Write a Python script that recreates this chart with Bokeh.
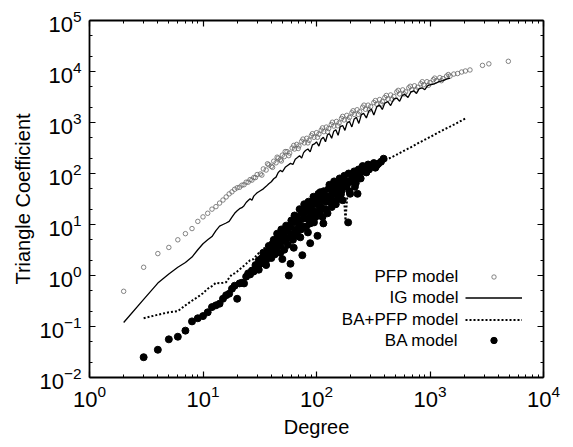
from bokeh.plotting import figure
from bokeh.models import LogAxis, FixedTicker, Legend, LegendItem, Label, Range1d, CustomJSTickFormatter
from bokeh.embed import file_html
from bokeh.resources import INLINE

# ---------------- data ----------------
pfp_deg = [2,3,4,5,6,7,8,9,10,11,12,13,14,15,16,17,18,19,20,21,22,23,24,25,26,27,28,29,30,
           32,34,36,38,40,42,44,46,48,50,52,55,58,61,64,67,70,74,78,82,86,90,95,100,
           105,110,116,122,128,135,142,150,158,166,175,185,195,205,215,228,240,255,270,285,300,
           320,340,360,380,400,425,450,480,510,540,575,610,650,690,730,780,830,880,940,1000,
           1070,1140,1220,1300,1400,1500,1620,1750,1900,2050,2250,2900,3300,4900,
           33,37,41,45,49,53,57,63,69,76,84,92,102,113,125,138,154,170,190,210,234,262,292,
           330,370,412,465,525,592,670,755,855,970,1100,1260,1450]
pfp_tc = [0.49,1.45,2.69,3.55,5.01,6.61,8.32,11.5,14.1,16.6,20.0,22.4,26.3,30.2,34.7,39.8,43.7,49.0,52.5,53.7,
          58.9,60.3,67.6,67.6,75.9,74.1,83.2,83.2,95.5,
          97.7,123,117,148,138,174,162,200,186,229,214,269,251,316,302,372,347,427,398,490,447,550,513,631,
          589,708,661,813,759,912,851,1047,977,1202,1122,1380,1259,1549,1445,1778,1622,1995,1820,2188,2042,
          2455,2291,2818,2570,3090,2884,3467,3236,3981,3631,4365,3981,4786,4365,5248,4898,5754,5495,6310,6026,
          6918,6607,7586,7244,8128,8128,8913,9120,9772,10230,10720,13180,14130,15850,
          93,155,132,209,176,269,224,355,309,473,398,603,513,785,661,1012,861,1318,1122,1698,1445,2188,1778,
          2692,2291,3388,2851,4266,3631,5129,4365,6310,5370,7413,6607,8710]

ig_deg = [2,3,4,5,6,7,8,9,10,11,12,13,14,15,16,17,18,19,20,21,22,23,24,25,26,27,28,29,30,
          32,34,36,38,40,42,44,46,48,50,53,56,59,62,65,68,71,74,77,80,84,88,92,96,100,
          105,110,115,120,125,130,136,142,148,155,162,170,178,186,195,205,215,225,236,248,260,275,290,305,320,
          340,360,380,400,425,450,480,510,540,570,600,640,680,720,760,800,850,900,950,1000,
          1100,1200,1300,1400,1500]
ig_tc = [0.12,0.34,0.71,1.07,1.45,1.8,2.3,3.2,4.2,5.0,5.8,7.6,9.3,10,10.7,11.5,14,16.6,18.6,20.4,
         21.4,23.4,27,29.5,32,30,36,39,42,
         46,50,56,63,69,79,85,105,115,108,132,145,158,150,190,205,224,200,257,282,302,265,363,380,417,
         345,468,513,420,575,603,490,676,724,560,832,871,700,977,1047,820,1175,1259,960,1413,1514,1230,1698,1820,1400,
         2042,2188,1800,2399,2570,2150,2884,3020,2600,3388,3548,3100,3981,4169,3700,4571,4786,4400,5248,5495,
         5754,6310,6607,7079,7413]

bapfp_deg = [3,4,5,6,7,8,9,10,11,12,13,14,15,16,17,18,19,20,22,24,26,28,30,
             33,36,40,45,50,55,60,65,70,75,80,85,90,95,100,
             110,120,130,140,150,160,173,180,190,200,220,240,260,280,300,330,360,400,
             450,500,560,620,700,780,860,950,1070,1200,1350,1500,1700,1900,2050]
bapfp_tc = [0.145,0.17,0.19,0.20,0.26,0.32,0.38,0.45,0.55,0.62,0.72,0.70,0.72,0.74,0.90,1.05,1.10,1.2,
            1.43,1.7,2.0,2.1,2.6,
            3.0,3.8,4.5,5.6,5.0,7.5,8.5,6.0,10.5,11,8,14,16,11,20,
            24,18,30,35,22,45,47,12,60,73,88,97,107,116,126,141,157,180,
            204,229,263,295,339,389,436,490,562,646,741,832,955,1096,1200]

ba_deg = [3,4,5,6,7,8,9,10,11,12,13,14,15,16,17,18,19,20,21,22,23,24,25,26,27,28,29,30,31,32,
          33,34,35,36,37,38,39,40,41,42,43,44,45,46,47,48,
          50,51,52,53,55,56,57,58,59,60,62,63,63,65,67,68,70,72,74,75,
          77,79,80,82,84,86,88,88,90,93,95,97,100,102,105,108,110,113,115,118,
          122,125,128,132,136,140,145,150,153,158,163,168,173,180,187,190,195,200,210,218,
          225,230,240,250,260,275,290,310,330,350,390,
          31,34,36,38,40,42,44,46,48,49,52,54,56,60,62,64,66,69,71,73,76,78,81,83,85,87,91,94,98,101,
          104,107,112,116,120,126,130,134,138,143,148,155,160,166,170,176,183,192,198,205,215,222,
          235,245,255,270,285,300,320,340,370]
ba_tc = [0.025,0.035,0.056,0.063,0.083,0.126,0.145,0.16,0.19,0.24,
         0.26,0.28,0.35,0.41,0.44,0.55,0.63,0.35,0.70,0.72,
         0.70,0.95,1.1,1.05,1.25,1.2,1.6,1.4,2.0,1.7,
         2.2,2.1,2.6,2.0,3.0,2.4,3.5,2.8,4.2,3.3,
         2.6,4.5,6.6,3.8,5.0,4.0,
         2.1,6.0,4.8,7.6,7.6,5.5,1.0,9.0,1.7,6.5,11,3.5,12,8,14,6,10,5.6,17,2.5,
         16.6,9,20,13,7,22,4.3,10.5,15,26,11,30,18,6,34,43,22,14,10.5,38,
         28,16.6,50,35,22,55,40,30,46,65,38,52,58,70,63,11,45,73,85,55,
         83,40,95,110,130,105,120,140,130,155,195,
         1.3,2.8,1.6,3.8,2.2,5.0,3.0,6.0,2.8,8.0,3.2,9.5,4.0,12,5,15,7,12,20,8,13,25,9,18,28,12,20,35,14,25,
         40,17,30,45,20,35,60,28,42,70,25,50,80,45,30,90,55,100,40,70,110,65,
         120,80,140,125,150,135,160,145,170]

legend_labels = ["PFP model", "IG model", "BA+PFP model", "BA model"]

x_major = [1, 10, 100, 1000, 10000]
y_major = [1e-2, 1e-1, 1, 10, 100, 1000, 1e4, 1e5]
x_minor = [m * 10 ** e for e in range(0, 4) for m in range(2, 10)]
y_minor = [m * 10.0 ** e for e in range(-2, 5) for m in (2, 5)]

FONT = "Liberation Sans"

p = figure(width=573, height=447, x_axis_type="log", y_axis_type="log",
           x_range=Range1d(1, 1e4), y_range=Range1d(1e-2, 1e5),
           output_backend="svg", toolbar_location=None,
           min_border_left=89, min_border_right=30, min_border_top=20, min_border_bottom=70)
p.grid.visible = False
p.outline_line_color = None
p.background_fill_color = "white"
p.border_fill_color = "white"

def style_axis(ax, ticks, minors, labels=True):
    ax.ticker = FixedTicker(ticks=ticks, minor_ticks=minors)
    ax.axis_line_color = "black"
    ax.axis_line_width = 1.8
    ax.major_tick_in = 6
    ax.major_tick_out = 0
    ax.minor_tick_in = 3
    ax.minor_tick_out = 0
    ax.major_tick_line_color = "black"
    ax.minor_tick_line_color = "black"
    ax.major_tick_line_width = 1.2
    ax.minor_tick_line_width = 1
    if labels:
        ax.major_label_text_font = FONT
        ax.major_label_text_font_size = "22px"
        ax.major_label_text_color = "black"
        ax.axis_label_text_font = FONT
        ax.axis_label_text_font_size = "20px"
        ax.axis_label_text_font_style = "normal"
        ax.axis_label_text_color = "black"
    else:
        ax.formatter = CustomJSTickFormatter(code="return ' ';")
        ax.major_label_text_font_size = "2px"
        ax.major_label_text_color = None
        ax.major_label_standoff = 0

style_axis(p.xaxis[0], x_major, x_minor)
style_axis(p.yaxis[0], y_major, y_minor)
p.xaxis[0].axis_label = "Degree"
p.yaxis[0].axis_label = "Triangle Coefficient"
p.xaxis[0].major_label_standoff = 7
p.yaxis[0].major_label_standoff = 8
p.xaxis[0].axis_label_standoff = 6
p.yaxis[0].axis_label_standoff = 2

top = LogAxis()
style_axis(top, x_major, x_minor, labels=False)
p.add_layout(top, "above")
right = LogAxis()
style_axis(right, y_major, y_minor, labels=False)
p.add_layout(right, "right")

r_pfp = p.scatter(pfp_deg, pfp_tc, marker="circle", size=4.5, fill_color=None,
                  line_color="#666666", line_width=0.8)
r_ig = p.line(ig_deg, ig_tc, line_color="black", line_width=1.3)
r_bapfp = p.line(bapfp_deg, bapfp_tc, line_color="black", line_width=2, line_dash="2 2")
r_ba = p.scatter(ba_deg, ba_tc, marker="circle", size=7, fill_color="black", line_color="black")

renderers = [r_pfp, r_ig, r_bapfp, r_ba]
row_y = [101, 80, 58, 37]
glyph_h = [11, 21, 21, 16]
for r, yy, gh in zip(renderers, row_y, glyph_h):
    lg = Legend(items=[LegendItem(label=" ", renderers=[r])],
                location=(376, yy - gh / 2), glyph_width=57, glyph_height=gh, label_height=gh,
                label_width=1, label_standoff=0, spacing=0, padding=0, margin=0,
                border_line_color=None, background_fill_alpha=0,
                label_text_font_size="6px")
    p.add_layout(lg)

for txt, yy in zip(legend_labels, row_y):
    p.add_layout(Label(x=369, y=yy, x_units="screen", y_units="screen", text=txt,
                       text_align="right", text_baseline="middle",
                       text_font=FONT, text_font_size="17px", text_color="black"))

open("out.html", "w").write(file_html(p, INLINE))
